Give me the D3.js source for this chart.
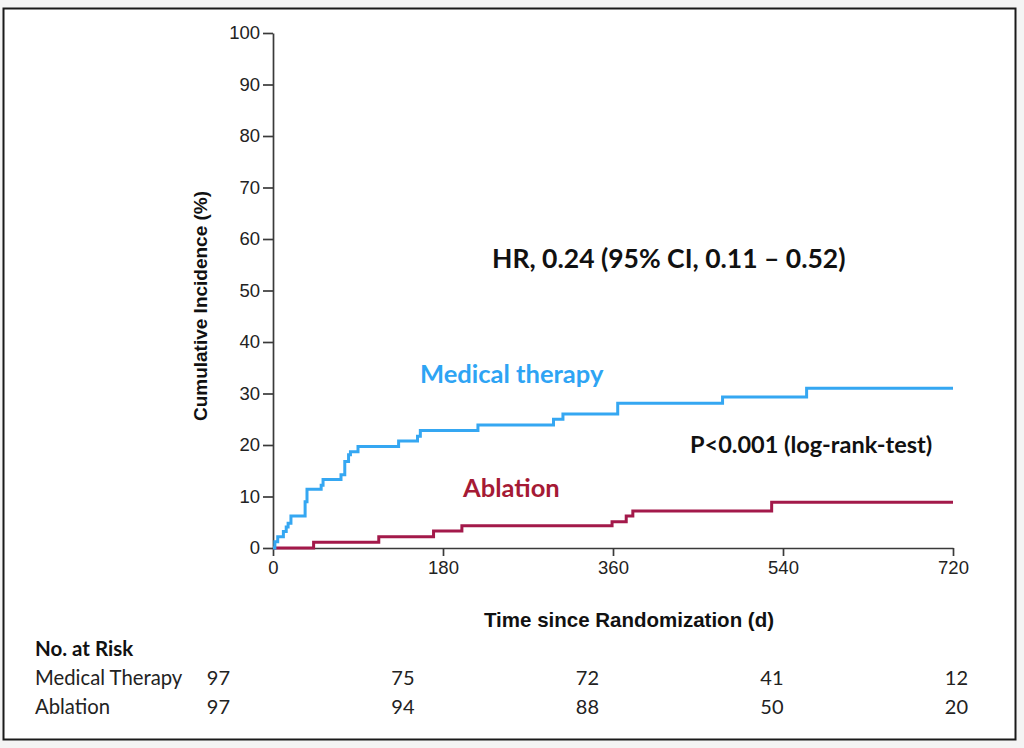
<!DOCTYPE html>
<html>
<head>
<meta charset="utf-8">
<script src="https://cdn.jsdelivr.net/npm/d3@7"></script>
<style>
  html, body { margin: 0; padding: 0; background: #f4f4f4; }
  svg { display: block; }
</style>
</head>
<body>
<div id="km-chart"></div>
<script>
'use strict';

// follow-up days and cumulative incidence (%)
const medDays = [0, 2, 5, 11, 14, 16, 19, 34, 36, 51, 53, 72, 76, 80, 82, 90, 133, 153, 156, 217, 297, 307, 365, 476, 565, 720];
const medPct = [0, 1.2, 2.2, 3.2, 4.1, 4.8, 6.2, 9.0, 11.4, 12.2, 13.3, 14.2, 16.8, 18.1, 18.7, 19.7, 20.8, 21.7, 22.8, 23.9, 25.0, 26.0, 28.1, 29.3, 31.0, 31.0];
const ablDays = [0, 43, 112, 170, 200, 359, 374, 381, 528, 720];
const ablPct = [0, 1.1, 2.2, 3.3, 4.3, 5.1, 6.2, 7.2, 8.9, 8.9];

const xTicks = [0, 180, 360, 540, 720];
const yTicks = [0, 10, 20, 30, 40, 50, 60, 70, 80, 90, 100];

const riskGroups = ['Medical Therapy', 'Ablation'];
const medRisk = [97, 75, 72, 41, 12];
const ablRisk = [97, 94, 88, 50, 20];

const settings = {
    width: 1024,
    height: 748,
    elId: '#km-chart',
};

const plot = { left: 273, right: 953, top: 33, bottom: 548 };

const colors = {
    med: '#35a7f2',
    medText: '#2ea4f4',
    abl: '#a3194a',
    ablText: '#a51a35',
    axis: '#3a3a3a',
};

const axisFont = '"Liberation Sans", Arial, sans-serif';
const noteFont = 'Lato, "Open Sans", sans-serif';

const svg = d3.select(settings.elId)
    .append('svg')
    .attr('width', settings.width)
    .attr('height', settings.height);

// white panel with dark frame
svg.append('rect')
    .attr('x', 3.5)
    .attr('y', 8.5)
    .attr('width', 1012)
    .attr('height', 731)
    .attr('fill', '#fff')
    .attr('stroke', '#1a1a1a')
    .attr('stroke-width', 2);

const x = d3.scaleLinear().domain([0, 720]).range([plot.left, plot.right]);
const y = d3.scaleLinear().domain([0, 100]).range([plot.bottom, plot.top]);

// axes
const yAxis = svg.append('g')
    .attr('transform', `translate(${plot.left},0)`)
    .call(d3.axisLeft(y).tickValues(yTicks).tickSize(10).tickSizeOuter(0).tickPadding(3));

const xAxis = svg.append('g')
    .attr('transform', `translate(0,${plot.bottom})`)
    .call(d3.axisBottom(x).tickValues(xTicks).tickSize(8).tickSizeOuter(0).tickPadding(5));

[xAxis, yAxis].forEach(g => {
    g.select('.domain').attr('stroke', colors.axis).attr('stroke-width', 1.7);
    g.selectAll('.tick line').attr('stroke', colors.axis).attr('stroke-width', 1.7);
    g.selectAll('.tick text')
        .attr('fill', '#222')
        .style('font-family', axisFont)
        .style('font-size', '18.5px');
});

// axis titles
svg.append('text')
    .text('Cumulative Incidence (%)')
    .attr('transform', `translate(207,${(plot.top + plot.bottom) / 2 + 15.5}) rotate(-90)`)
    .attr('text-anchor', 'middle')
    .style('font-family', axisFont)
    .style('font-weight', 'bold')
    .style('font-size', '19px')
    .attr('fill', '#111');

svg.append('text')
    .text('Time since Randomization (d)')
    .attr('x', 629)
    .attr('y', 627)
    .attr('text-anchor', 'middle')
    .style('font-family', axisFont)
    .style('font-weight', 'bold')
    .style('font-size', '20.5px')
    .attr('fill', '#111');

// step curves
const line = d3.line()
    .x(d => x(d[0]))
    .y(d => y(d[1]))
    .curve(d3.curveStepAfter);

const curves = [
    { name: 'Ablation', pts: d3.zip(ablDays, ablPct), color: colors.abl },
    { name: 'Medical therapy', pts: d3.zip(medDays, medPct), color: colors.med },
];

svg.append('g')
    .attr('id', 'curves')
    .selectAll('path')
    .data(curves)
    .enter()
    .append('path')
    .attr('d', d => line(d.pts))
    .attr('fill', 'none')
    .attr('stroke', d => d.color)
    .attr('stroke-width', 3);

// annotations
const notes = [
    { text: 'HR, 0.24 (95% CI, 0.11 \u2013 0.52)', x: 492, y: 268, size: 26.5, color: '#111' },
    { text: 'Medical therapy', x: 420, y: 383, size: 25.5, color: colors.medText },
    { text: 'P<0.001 (log-rank-test)', x: 690, y: 453, size: 23.5, color: '#111' },
    { text: 'Ablation', x: 463, y: 497, size: 25.5, color: colors.ablText },
];

svg.append('g')
    .selectAll('text')
    .data(notes)
    .enter()
    .append('text')
    .text(d => d.text)
    .attr('x', d => d.x)
    .attr('y', d => d.y)
    .style('font-family', noteFont)
    .style('font-weight', 'bold')
    .style('font-size', d => d.size + 'px')
    .attr('fill', d => d.color);

// number at risk table
const riskX = d3.scaleLinear().domain([0, 720]).range([230, 968]);
const riskRows = [medRisk, ablRisk];

svg.append('text')
    .text('No. at Risk')
    .attr('x', 35)
    .attr('y', 656)
    .style('font-family', noteFont)
    .style('font-weight', 'bold')
    .style('font-size', '20.5px')
    .attr('fill', '#111');

const rows = svg.append('g')
    .selectAll('g')
    .data(riskRows)
    .enter()
    .append('g')
    .attr('transform', (_, i) => `translate(0,${685 + i * 29})`);

rows.append('text')
    .text((_, i) => riskGroups[i])
    .attr('x', 35)
    .style('font-family', noteFont)
    .style('font-size', '20.3px')
    .attr('fill', '#222');

rows.selectAll('.n')
    .data(d => d.map((v, j) => [xTicks[j], v]))
    .enter()
    .append('text')
    .attr('class', 'n')
    .text(d => d[1])
    .attr('x', d => riskX(d[0]))
    .attr('text-anchor', 'end')
    .style('font-family', noteFont)
    .style('font-size', '20px')
    .attr('fill', '#222');
</script>
</body>
</html>
